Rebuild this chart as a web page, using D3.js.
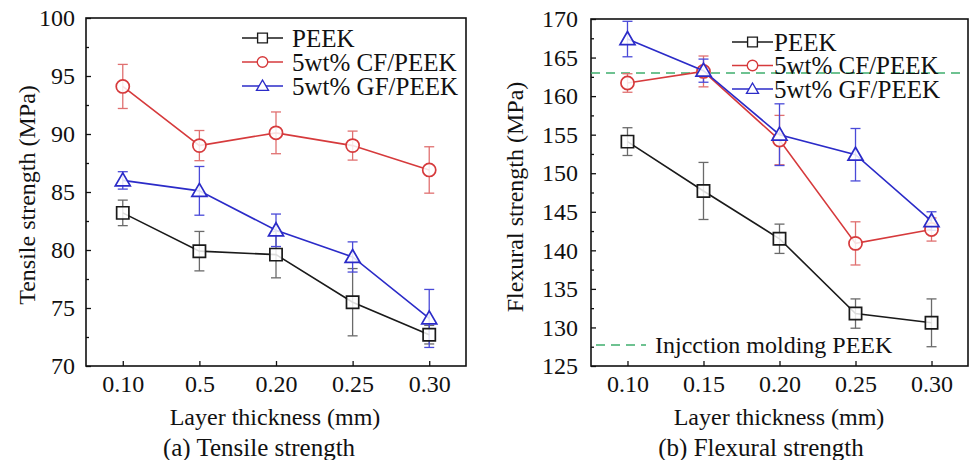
<!DOCTYPE html>
<html>
<head>
<meta charset="utf-8">
<script src="https://cdn.jsdelivr.net/npm/d3@7"></script>
<style>
  body { margin: 0; background: #fff; }
</style>
</head>
<body>
<svg id="chart" width="970" height="460"></svg>
<script>
// ---------------- data ----------------
var seriesNames = ["PEEK", "5wt% CF/PEEK", "5wt% GF/PEEK"];

// (a) tensile strength
var tensileCats = ["0.10", "0.5", "0.20", "0.25", "0.30"];
var tensilePEEK = [83.2, 79.9, 79.6, 75.5, 72.7];
var tensilePEEKErr = [1.1, 1.7, 2.0, 2.9, 0.8];
var tensileCF = [94.1, 89.0, 90.1, 89.0, 86.9];
var tensileCFErr = [1.9, 1.3, 1.8, 1.25, 2.0];
var tensileGF = [86.0, 85.1, 81.7, 79.4, 74.1];
var tensileGFErr = [0.75, 2.1, 1.4, 1.3, 2.5];
var tensileTicks = [70, 75, 80, 85, 90, 95, 100];

// (b) flexural strength
var flexCats = ["0.10", "0.15", "0.20", "0.25", "0.30"];
var flexPEEK = [154.1, 147.7, 141.5, 131.8, 130.6];
var flexPEEKErr = [1.8, 3.7, 1.9, 1.9, 3.1];
var flexCF = [161.7, 163.2, 154.3, 140.9, 142.7];
var flexCFErr = [1.2, 2.0, 3.2, 2.8, 1.5];
var flexGF = [167.4, 163.3, 155.0, 152.4, 143.8];
var flexGFErr = [2.3, 1.5, 4.0, 3.4, 1.2];
var flexTicks = [125, 130, 135, 140, 145, 150, 155, 160, 165, 170];
var injectionValue = 163.0;

// ---------------- styles ----------------
var szFont = "Liberation Serif";
var lineColors = ["#1a1a1a", "#d63a3c", "#2b2bc8"];
var errColors = ["#6a6a6a", "#e07070", "#4a4ad8"];
var markers = ["square", "circle", "triangle"];

var svg = d3.select("#chart");

function markerPath(type) {
  if (type == "square") return d3.symbol().type(d3.symbolSquare).size(150)();
  if (type == "circle") return d3.symbol().type(d3.symbolCircle).size(135)();
  return "M0,-7.5 L7.5,5.5 L-7.5,5.5 Z";
}

function addText(g, x, y, size, str) {
  return g.append("text").attr("x", x).attr("y", y).attr("dy", "0.35em")
    .style("font-family", szFont).style("font-size", size + "px").attr("fill", "#111").text(str);
}

// --------------------------------------------------
// one panel: frame, axes, error bars, lines, markers
// --------------------------------------------------
function drawPanel(p) {
  var x = d3.scalePoint().domain(p.cats).range([p.left, p.right]).padding(0.48);
  var y = d3.scaleLinear().domain([p.ticks[0], p.ticks[p.ticks.length - 1]]).range([p.bottom, p.top]);
  var g = svg.append("g");

  // minor ticks
  var minors = p.ticks.slice(0, -1).map(function(t, i) { return (t + p.ticks[i + 1]) / 2; });
  g.append("g").attr("transform", "translate(" + p.left + ",0)")
    .call(d3.axisLeft(y).tickValues(minors).tickSize(-3).tickFormat(""))
    .call(function(a) { a.select(".domain").remove(); a.selectAll("line").attr("stroke", "#111").attr("stroke-width", 1.3); });

  // y axis
  g.append("g").attr("transform", "translate(" + p.left + ",0)")
    .call(d3.axisLeft(y).tickValues(p.ticks).tickSize(-5).tickPadding(p.yPad).tickFormat(d3.format("d")))
    .call(function(a) {
      a.select(".domain").remove();
      a.selectAll("line").attr("stroke", "#111").attr("stroke-width", 1.3);
      a.selectAll("text").style("font-size", "24px").style("font-family", szFont).attr("fill", "#111");
    });

  // x axis
  g.append("g").attr("transform", "translate(0," + p.bottom + ")")
    .call(d3.axisBottom(x).tickSize(-5).tickPadding(9))
    .call(function(a) {
      a.select(".domain").remove();
      a.selectAll("line").attr("stroke", "#111").attr("stroke-width", 1.3);
      a.selectAll("text").style("font-size", "24px").style("font-family", szFont).attr("fill", "#111");
    });

  // frame
  g.append("rect").attr("x", p.left).attr("y", p.top)
    .attr("width", p.right - p.left).attr("height", p.bottom - p.top)
    .attr("fill", "none").attr("stroke", "#111").attr("stroke-width", 1.6);

  // reference line
  if (p.refValue != null) {
    g.append("line").attr("x1", p.left).attr("x2", p.right - 3)
      .attr("y1", y(p.refValue)).attr("y2", y(p.refValue))
      .attr("stroke", "#3fae6e").attr("stroke-width", 1.6).attr("stroke-dasharray", "9,6");
  }

  p.series.forEach(function(vals, si) {
    var errs = p.errors[si];
    var pts = vals.map(function(v, i) { return { c: p.cats[i], v: v, e: errs[i] }; });
    var eg = g.append("g").attr("stroke", errColors[si]).attr("stroke-width", 1.3);
    pts.forEach(function(d) {
      var cx = x(d.c);
      eg.append("line").attr("x1", cx).attr("x2", cx).attr("y1", y(d.v - d.e)).attr("y2", y(d.v + d.e));
      eg.append("line").attr("x1", cx - 5).attr("x2", cx + 5).attr("y1", y(d.v - d.e)).attr("y2", y(d.v - d.e));
      eg.append("line").attr("x1", cx - 5).attr("x2", cx + 5).attr("y1", y(d.v + d.e)).attr("y2", y(d.v + d.e));
    });
  });

  p.series.forEach(function(vals, si) {
    var pts = vals.map(function(v, i) { return { c: p.cats[i], v: v }; });
    g.append("path").datum(pts)
      .attr("d", d3.line().x(function(d) { return x(d.c); }).y(function(d) { return y(d.v); }))
      .attr("fill", "none").attr("stroke", lineColors[si]).attr("stroke-width", 1.6);
    g.selectAll(null).data(pts).enter().append("path")
      .attr("d", markerPath(markers[si]))
      .attr("transform", function(d) { return "translate(" + x(d.c) + "," + y(d.v) + ")"; })
      .attr("fill", "#fff").attr("fill-opacity", 0.85).attr("stroke", lineColors[si]).attr("stroke-width", 1.7);
  });

  // legend
  seriesNames.forEach(function(name, si) {
    var ly = p.legY + si * p.legDy;
    g.append("line").attr("x1", p.legX).attr("x2", p.legX + 41).attr("y1", ly).attr("y2", ly)
      .attr("stroke", lineColors[si]).attr("stroke-width", 1.5);
    g.append("path").attr("d", markerPath(markers[si]))
      .attr("transform", "translate(" + (p.legX + 20.5) + "," + ly + ") scale(0.8)")
      .attr("fill", "#fff").attr("stroke", lineColors[si]).attr("stroke-width", 1.7);
    addText(g, p.legX + p.legGap, ly, 25, name);
  });

  // axis titles
  addText(g, p.xTitleX, 417, 24, "Layer thickness (mm)").attr("text-anchor", "middle");
  g.append("text").attr("transform", "translate(" + p.yTitleX + "," + p.yTitleY + ") rotate(-90)")
    .attr("dy", "0.35em").attr("text-anchor", "middle")
    .style("font-family", szFont).style("font-size", "24px").attr("fill", "#111").text(p.yTitle);
  addText(g, p.capX, 447, 25, p.caption).attr("text-anchor", "middle");
  return { x: x, y: y, g: g };
}

drawPanel({
  left: 86, right: 466, top: 18, bottom: 366,
  cats: tensileCats, ticks: tensileTicks, yPad: 11,
  series: [tensilePEEK, tensileCF, tensileGF],
  errors: [tensilePEEKErr, tensileCFErr, tensileGFErr],
  legX: 242, legY: 38, legDy: 24, legGap: 50,
  xTitleX: 275, yTitleX: 27, yTitleY: 195, yTitle: "Tensile strength (MPa)",
  capX: 259, caption: "(a) Tensile strength"
});

var right = drawPanel({
  left: 591, right: 968, top: 19, bottom: 366,
  cats: flexCats, ticks: flexTicks, yPad: 13,
  series: [flexPEEK, flexCF, flexGF],
  errors: [flexPEEKErr, flexCFErr, flexGFErr],
  refValue: injectionValue,
  legX: 732, legY: 42, legDy: 23.5, legGap: 42,
  xTitleX: 779, yTitleX: 515, yTitleY: 197, yTitle: "Flexural strength (MPa)",
  capX: 761, caption: "(b) Flexural strength"
});

// injection molding reference legend
right.g.append("line").attr("x1", 596).attr("x2", 646).attr("y1", 345).attr("y2", 345)
  .attr("stroke", "#3fae6e").attr("stroke-width", 1.6).attr("stroke-dasharray", "9,6");
addText(right.g, 655, 345, 24, "Injcction molding PEEK");
</script>
</body>
</html>
